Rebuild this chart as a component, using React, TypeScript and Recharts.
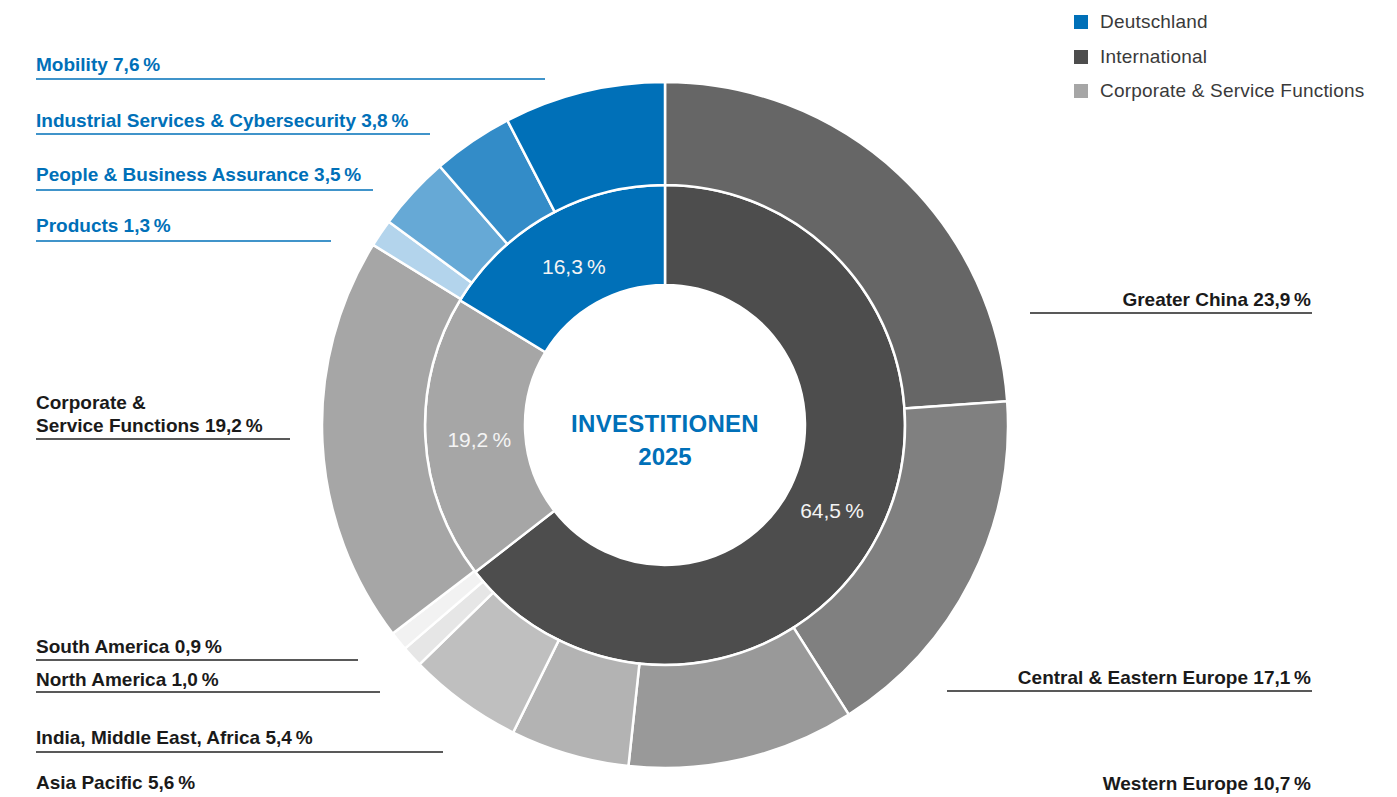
import { Cell, Customized, Legend, Pie, PieChart } from "recharts";

// inner ring: Deutschland / International / Corporate split
const innerNames = ["International", "Corporate & Service Functions", "Deutschland"];
const innerValues = [64.5, 19.2, 16.3];
const innerColors = ["#4d4d4d", "#a6a6a6", "#0070b8"];

// outer ring: regions and divisions, clockwise from 12 o'clock
const outerNames = [
  "Greater China",
  "Central & Eastern Europe",
  "Western Europe",
  "Asia Pacific",
  "India, Middle East, Africa",
  "North America",
  "South America",
  "Corporate & Service Functions",
  "Products",
  "People & Business Assurance",
  "Industrial Services & Cybersecurity",
  "Mobility",
];
const outerValues = [23.9, 17.1, 10.7, 5.6, 5.4, 1.0, 0.9, 19.2, 1.3, 3.5, 3.8, 7.6];
const outerColors = [
  "#666666",
  "#808080",
  "#999999",
  "#b3b3b3",
  "#bfbfbf",
  "#e6e6e6",
  "#f2f2f2",
  "#a6a6a6",
  "#b3d4ec",
  "#66a9d6",
  "#338cc8",
  "#0070b8",
];

const legendNames = ["Deutschland", "International", "Corporate & Service Functions"];
const legendColors = ["#0070b8", "#4d4d4d", "#a6a6a6"];

const centerTitle = ["INVESTITIONEN", "2025"];

// where each outer callout sits (same order as outerNames)
const callouts = [
  { side: "right", base: 306, line: 313, edge: 1030, blue: false },
  { side: "right", base: 684, line: 691, edge: 947, blue: false },
  { side: "right", base: 790, line: null, edge: 0, blue: false },
  { side: "left", base: 789, line: null, edge: 0, blue: false },
  { side: "left", base: 744, line: 752, edge: 443, blue: false },
  { side: "left", base: 686, line: 692, edge: 380, blue: false },
  { side: "left", base: 653, line: 660, edge: 358, blue: false },
  { side: "left", base: 432, line: 439, edge: 290, blue: false, split: "Corporate &" },
  { side: "left", base: 232, line: 241, edge: 331, blue: true },
  { side: "left", base: 181, line: 190, edge: 373, blue: true },
  { side: "left", base: 127, line: 134, edge: 430, blue: true },
  { side: "left", base: 71, line: 79, edge: 545, blue: true },
];

const FONT = "'Liberation Sans', Arial, Helvetica, sans-serif";
const BLUE = "#0070b8";
const CX = 665;
const CY = 425;

const pct = (v: number) => v.toFixed(1).replace(".", ",") + "\u2009%";

const innerData = innerNames.map((name, i) => ({ name, value: innerValues[i] }));
const outerData = outerNames.map((name, i) => ({ name, value: outerValues[i] }));

const RAD = Math.PI / 180;

function InnerLabel(props: any) {
  const { cx, cy, midAngle, innerRadius, outerRadius, value } = props;
  const r = innerRadius + (outerRadius - innerRadius) * 0.46;
  const x = cx + r * Math.cos(-midAngle * RAD);
  const y = cy + r * Math.sin(-midAngle * RAD) + 4;
  return (
    <text
      x={x}
      y={y}
      fill="#f4f4f4"
      fontFamily={FONT}
      fontSize={21}
      textAnchor="middle"
      dominantBaseline="central"
    >
      {pct(value)}
    </text>
  );
}

function Callouts() {
  return (
    <g fontFamily={FONT} fontSize={19} fontWeight={700}>
      {outerData.map((d, i) => {
        const c = callouts[i];
        const color = c.blue ? BLUE : "#1a1a1a";
        const full = `${d.name} ${pct(d.value)}`;
        const right = c.side === "right";
        const x = right ? 1311 : 36;
        let lines = [full];
        if (c.split) lines = [c.split, full.slice(c.split.length + 1)];
        return (
          <g key={d.name}>
            {lines.map((t, k) => (
              <text
                key={k}
                x={x}
                y={c.base - (lines.length - 1 - k) * 23}
                fill={color}
                textAnchor={right ? "end" : "start"}
              >
                {t}
              </text>
            ))}
            {c.line != null && (
              <line
                x1={right ? c.edge : 36}
                x2={right ? 1312 : c.edge}
                y1={c.line}
                y2={c.line}
                stroke={c.blue ? BLUE : "#222"}
                strokeWidth={1.3}
              />
            )}
          </g>
        );
      })}
      <text x={CX} y={432} fill={BLUE} fontSize={24} textAnchor="middle" letterSpacing={0.3}>
        {centerTitle[0]}
      </text>
      <text x={CX} y={465} fill={BLUE} fontSize={24} textAnchor="middle">
        {centerTitle[1]}
      </text>
    </g>
  );
}

function LegendBox() {
  return (
    <div style={{ fontFamily: FONT, fontSize: 19, color: "#3a3a3a", letterSpacing: 0.2 }}>
      {legendNames.map((n, i) => (
        <div key={n} style={{ display: "flex", alignItems: "center", height: 34.5 }}>
          <span
            style={{
              display: "inline-block",
              width: 14,
              height: 14,
              background: legendColors[i],
              marginRight: 12,
            }}
          />
          {n}
        </div>
      ))}
    </div>
  );
}

export default function App() {
  return (
    <div style={{ width: 1397, height: 797, background: "#fff" }}>
      <style>{`body{margin:0;background:#fff}`}</style>
      <PieChart width={1397} height={797} margin={{ top: 0, right: 0, bottom: 0, left: 0 }}>
        <Pie
          data={innerData}
          dataKey="value"
          cx={CX}
          cy={CY}
          innerRadius={140}
          outerRadius={240}
          startAngle={90}
          endAngle={-270}
          stroke="#fff"
          strokeWidth={2.5}
          label={InnerLabel}
          labelLine={false}
          isAnimationActive={false}
        >
          {innerData.map((d, i) => (
            <Cell key={d.name} fill={innerColors[i]} />
          ))}
        </Pie>
        <Pie
          data={outerData}
          dataKey="value"
          cx={CX}
          cy={CY}
          innerRadius={240}
          outerRadius={343}
          startAngle={90}
          endAngle={-270}
          stroke="#fff"
          strokeWidth={2.5}
          isAnimationActive={false}
        >
          {outerData.map((d, i) => (
            <Cell key={d.name} fill={outerColors[i]} />
          ))}
        </Pie>
        <Customized component={<Callouts />} />
        <Legend
          content={() => <LegendBox />}
          wrapperStyle={{ position: "absolute", top: 5, left: 1074, width: 320, right: "auto", bottom: "auto" }}
        />
      </PieChart>
    </div>
  );
}
